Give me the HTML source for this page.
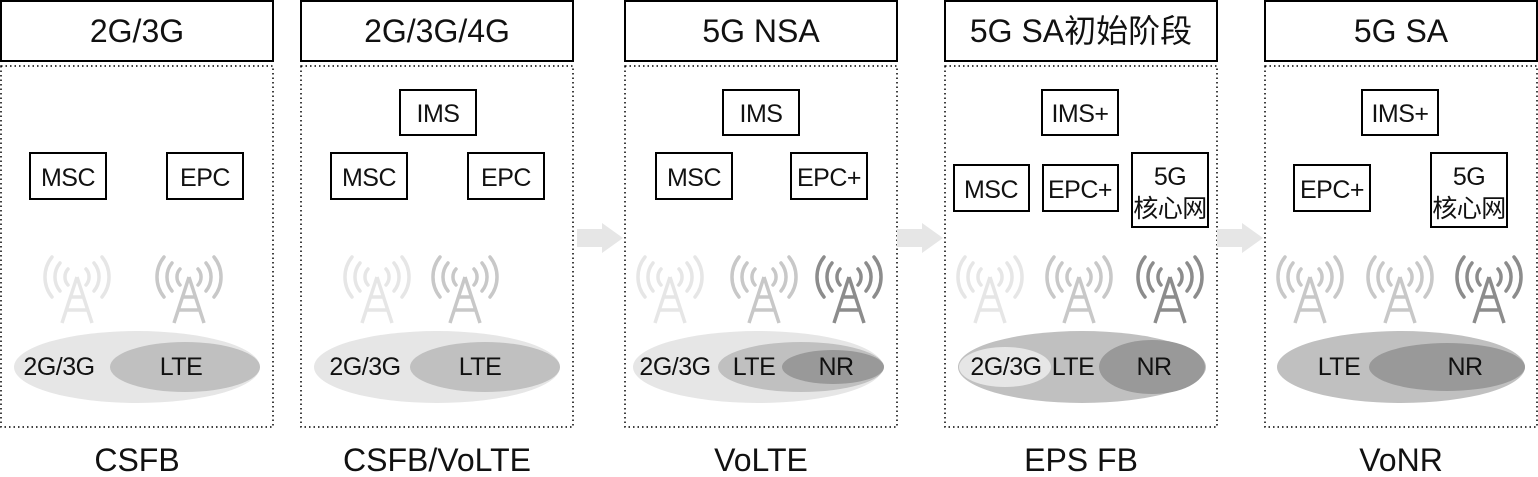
<!DOCTYPE html>
<html><head><meta charset="utf-8"><style>
html,body{margin:0;padding:0;background:#fff}
svg{display:block}
text{font-family:"Liberation Sans","Noto Sans CJK SC",sans-serif;fill:#111}
</style></head><body>
<svg width="1538" height="477" viewBox="0 0 1538 477" xmlns="http://www.w3.org/2000/svg">
<defs>
<g id="tw" fill="none" stroke-width="3.5" stroke-linecap="round">
  <path d="M-9,8 A12,12 0 0 1 -9,-8 M9,-8 A12,12 0 0 1 9,8"/>
  <path d="M-17,14 A22,22 0 0 1 -17,-14 M17,-14 A22,22 0 0 1 17,14"/>
  <path d="M-25,20 A32,32 0 0 1 -25,-20 M25,-20 A32,32 0 0 1 25,20"/>
  <path d="M0,0 L-15,46 M0,0 L15,46 M-6,20 L6,20 M-10,33 L10,33" stroke-linecap="butt"/>
  <circle cx="0" cy="0" r="3.5" stroke="none"/>
</g>
</defs>
<g fill="none" stroke="#000" stroke-width="2">
  <rect x="1" y="1" width="272" height="60"/>
  <rect x="301" y="1" width="272" height="60"/>
  <rect x="625" y="1" width="272" height="60"/>
  <rect x="945" y="1" width="272" height="60"/>
  <rect x="1265" y="1" width="272" height="60"/>
</g>
<g fill="none" stroke="#000" stroke-width="1.5" stroke-dasharray="1.5 3">
  <rect x="1" y="66" width="272" height="361"/>
  <rect x="301" y="66" width="272" height="361"/>
  <rect x="625" y="66" width="272" height="361"/>
  <rect x="945" y="66" width="272" height="361"/>
  <rect x="1265" y="66" width="272" height="361"/>
</g>
<g font-size="32" text-anchor="middle">
  <text x="137" y="42">2G/3G</text>
  <text x="437" y="42">2G/3G/4G</text>
  <text x="761" y="42">5G NSA</text>
  <text x="1081" y="42">5G SA初始阶段</text>
  <text x="1401" y="42">5G SA</text>
  <text x="137" y="471">CSFB</text>
  <text x="437" y="471">CSFB/VoLTE</text>
  <text x="761" y="471">VoLTE</text>
  <text x="1081" y="471">EPS FB</text>
  <text x="1401" y="471">VoNR</text>
</g>
<g fill="#e6e6e6">
  <path d="M577,229 H602 V223 L623,238 L602,253 V247 H577 Z"/>
  <path d="M897,229 H922 V223 L943,238 L922,253 V247 H897 Z"/>
  <path d="M1217,229 H1242 V223 L1263,238 L1242,253 V247 H1217 Z"/>
</g>
<g fill="#fff" stroke="#000" stroke-width="2">
  <rect x="30" y="153" width="76" height="46"/><rect x="167" y="153" width="76" height="46"/>
  <rect x="400" y="90" width="76" height="45"/><rect x="331" y="153" width="76" height="46"/><rect x="468" y="153" width="76" height="46"/>
  <rect x="723" y="90" width="76" height="45"/><rect x="656" y="153" width="76" height="46"/><rect x="791" y="153" width="76" height="46"/>
  <rect x="1042" y="90" width="76" height="45"/><rect x="954" y="165" width="75" height="46"/><rect x="1043" y="165" width="75" height="46"/><rect x="1132" y="153" width="76" height="74"/>
  <rect x="1362" y="90" width="76" height="45"/><rect x="1294" y="165" width="76" height="46"/><rect x="1431" y="153" width="76" height="74"/>
</g>
<g font-size="25" text-anchor="middle" letter-spacing="-0.5">
  <text x="68" y="186">MSC</text><text x="205" y="186">EPC</text>
  <text x="438" y="122">IMS</text><text x="369" y="186">MSC</text><text x="506" y="186">EPC</text>
  <text x="761" y="122">IMS</text><text x="694" y="186">MSC</text><text x="829" y="186">EPC+</text>
  <text x="1080" y="122">IMS+</text><text x="991" y="198">MSC</text><text x="1080" y="198">EPC+</text>
  <text x="1170" y="185">5G</text><text x="1170" y="217">核心网</text>
  <text x="1400" y="122">IMS+</text><text x="1332" y="198">EPC+</text>
  <text x="1469" y="185">5G</text><text x="1469" y="217">核心网</text>
</g>
<use href="#tw" x="77" y="277" stroke="#e6e6e6" fill="#e6e6e6"/>
<use href="#tw" x="189" y="277" stroke="#c8c8c8" fill="#c8c8c8"/>
<use href="#tw" x="377" y="277" stroke="#e6e6e6" fill="#e6e6e6"/>
<use href="#tw" x="465" y="277" stroke="#c8c8c8" fill="#c8c8c8"/>
<use href="#tw" x="670" y="277" stroke="#e6e6e6" fill="#e6e6e6"/>
<use href="#tw" x="764" y="277" stroke="#c8c8c8" fill="#c8c8c8"/>
<use href="#tw" x="849" y="277" stroke="#8c8c8c" fill="#8c8c8c"/>
<use href="#tw" x="990" y="277" stroke="#e6e6e6" fill="#e6e6e6"/>
<use href="#tw" x="1079" y="277" stroke="#c8c8c8" fill="#c8c8c8"/>
<use href="#tw" x="1170" y="277" stroke="#8c8c8c" fill="#8c8c8c"/>
<use href="#tw" x="1310" y="277" stroke="#c8c8c8" fill="#c8c8c8"/>
<use href="#tw" x="1400" y="277" stroke="#c8c8c8" fill="#c8c8c8"/>
<use href="#tw" x="1489" y="277" stroke="#8c8c8c" fill="#8c8c8c"/>
<ellipse cx="137" cy="367" rx="123" ry="36" fill="#e6e6e6"/>
<ellipse cx="185" cy="367" rx="75" ry="25" fill="#c0c0c0"/>
<ellipse cx="437" cy="367" rx="123" ry="36" fill="#e6e6e6"/>
<ellipse cx="485" cy="367" rx="75" ry="25" fill="#c0c0c0"/>
<ellipse cx="758" cy="367" rx="125" ry="36" fill="#e6e6e6"/>
<ellipse cx="801" cy="367" rx="83" ry="25" fill="#c0c0c0"/>
<ellipse cx="833" cy="367" rx="51" ry="17" fill="#999"/>
<ellipse cx="1082" cy="367" rx="124" ry="36" fill="#c0c0c0"/>
<ellipse cx="1005" cy="367" rx="46" ry="20" fill="#e6e6e6"/>
<ellipse cx="1152" cy="367" rx="53" ry="27" fill="#999"/>
<ellipse cx="1401" cy="367" rx="124" ry="36" fill="#c0c0c0"/>
<ellipse cx="1447" cy="367" rx="78" ry="24" fill="#999"/>
<g font-size="25" text-anchor="middle" letter-spacing="-0.5">
  <text x="59" y="375">2G/3G</text><text x="181" y="375">LTE</text>
  <text x="365" y="375">2G/3G</text><text x="480" y="375">LTE</text>
  <text x="675" y="375">2G/3G</text><text x="754" y="375">LTE</text><text x="836" y="375">NR</text>
  <text x="1006" y="375">2G/3G</text><text x="1073" y="375">LTE</text><text x="1154" y="375">NR</text>
  <text x="1339" y="375">LTE</text><text x="1465" y="375">NR</text>
</g>
</svg>
</body></html>
